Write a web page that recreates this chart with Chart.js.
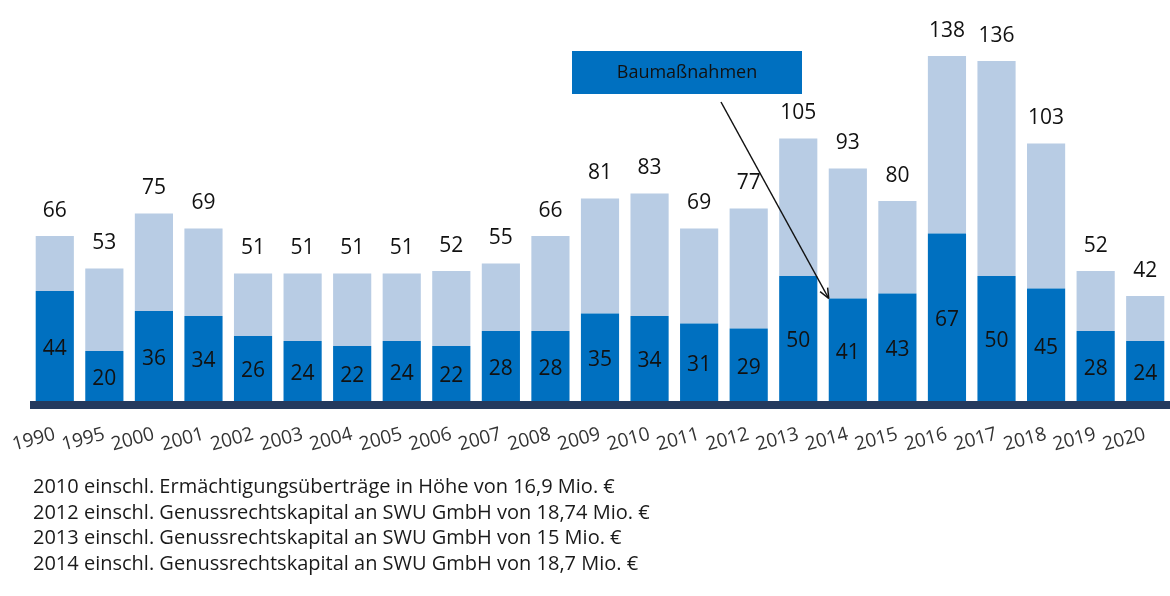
<!DOCTYPE html>
<html>
<head>
<meta charset="utf-8">
<script src="https://cdn.jsdelivr.net/npm/chart.js@4.4.1/dist/chart.umd.min.js"></script>
<style>
	body { margin: 0; background: #fff; }
	#wrap { position: relative; width: 1170px; height: 596px; }
	#notes { position: absolute; left: 33px; top: 473px; font-family: "Open Sans", sans-serif; font-size: 20px; line-height: 25.7px; color: #1a1a1a; }
</style>
</head>
<body>
<div id="wrap">
	<canvas id="invest" width="1170" height="596"></canvas>
	<div id="notes">
		<div>2010 einschl. Ermächtigungsüberträge in Höhe von 16,9 Mio. €</div>
		<div>2012 einschl. Genussrechtskapital an SWU GmbH von 18,74 Mio. €</div>
		<div>2013 einschl. Genussrechtskapital an SWU GmbH von 15 Mio. €</div>
		<div>2014 einschl. Genussrechtskapital an SWU GmbH von 18,7 Mio. €</div>
	</div>
</div>
<script>
//Years on the x axis
var years = ['1990', '1995', '2000', '2001', '2002', '2003', '2004', '2005', '2006', '2007', '2008', '2009',
	'2010', '2011', '2012', '2013', '2014', '2015', '2016', '2017', '2018', '2019', '2020'];

//Total per year (label on top of bar)
var totals = [66, 53, 75, 69, 51, 51, 51, 51, 52, 55, 66, 81, 83, 69, 77, 105, 93, 80, 138, 136, 103, 52, 42];

//Dark part of the bar (Baumaßnahmen)
var building = [44, 20, 36, 34, 26, 24, 22, 24, 22, 28, 28, 35, 34, 31, 29, 50, 41, 43, 67, 50, 45, 28, 24];

//Light part is whatever is left of the total
var rest = [];
for (var i = 0; i < totals.length; i++) {
	rest.push(totals[i] - building[i]);
}

var noteText = 'Baumaßnahmen';
var noteYear = '2014';

//Draws the base line, the value labels and the callout box
var decoPlugin = {
	id: 'deco',
	beforeDatasetsDraw: function(chart) {
		var ctx = chart.ctx;
		var y0 = chart.scales.y.getPixelForValue(0);
		ctx.save();
		ctx.fillStyle = '#243a5e';
		ctx.fillRect(30, y0, chart.width - 30, 8);
		ctx.restore();
	},
	afterDatasetsDraw: function(chart) {
		var ctx = chart.ctx;
		var dark = chart.getDatasetMeta(0).data;
		var light = chart.getDatasetMeta(1).data;
		ctx.save();
		ctx.fillStyle = '#111';
		ctx.font = '21px "Open Sans", sans-serif';
		ctx.textAlign = 'center';
		ctx.textBaseline = 'middle';
		for (var j = 0; j < dark.length; j++) {
			var d = dark[j];
			ctx.fillText(String(building[j]), d.x, (d.y + d.base) / 2 + 3);
			ctx.fillText(String(totals[j]), light[j].x, light[j].y - 25);
		}

		//callout box
		ctx.fillStyle = '#0070c0';
		ctx.fillRect(572, 51, 230, 43);
		ctx.fillStyle = '#111';
		ctx.font = '18px "Open Sans", sans-serif';
		ctx.fillText(noteText, 687, 73);

		//arrow to the dark bar of the marked year
		var k = years.indexOf(noteYear);
		var tx = dark[k].x - dark[k].width / 2;
		var ty = dark[k].y;
		var sx = 721, sy = 102;
		ctx.strokeStyle = '#111';
		ctx.lineWidth = 1.5;
		ctx.beginPath();
		ctx.moveTo(sx, sy);
		ctx.lineTo(tx, ty);
		ctx.stroke();
		var ang = Math.atan2(ty - sy, tx - sx);
		ctx.beginPath();
		ctx.moveTo(tx, ty);
		ctx.lineTo(tx - 11 * Math.cos(ang - 0.4), ty - 11 * Math.sin(ang - 0.4));
		ctx.moveTo(tx, ty);
		ctx.lineTo(tx - 11 * Math.cos(ang + 0.4), ty - 11 * Math.sin(ang + 0.4));
		ctx.stroke();
		ctx.restore();
	}
};

var chart = new Chart(document.getElementById('invest').getContext('2d'), {
	type: 'bar',
	data: {
		labels: years,
		datasets: [{
			label: 'Baumaßnahmen',
			data: building,
			backgroundColor: '#0070c0',
			barPercentage: 0.77,
			categoryPercentage: 1
		}, {
			label: 'Sonstige',
			data: rest,
			backgroundColor: '#b8cce4',
			barPercentage: 0.77,
			categoryPercentage: 1
		}]
	},
	options: {
		responsive: false,
		animation: false,
		layout: { padding: { left: 30, top: 51, right: 0, bottom: 0 } },
		plugins: { legend: { display: false }, tooltip: { enabled: false } },
		scales: {
			x: {
				stacked: true,
				grid: { display: false, drawTicks: false },
				border: { display: false },
				afterFit: function(s) {
					s.height = 195;
					//no extra room for the rotated first label
					s.paddingLeft = 0;
					s.paddingRight = 0;
				},
				ticks: {
					autoSkip: false,
					minRotation: 15,
					maxRotation: 15,
					padding: 22,
					color: '#333',
					font: { family: 'Open Sans', size: 19 }
				}
			},
			y: {
				stacked: true,
				display: false,
				min: 0,
				max: 140
			}
		}
	},
	plugins: [decoPlugin]
});
</script>
</body>
</html>
